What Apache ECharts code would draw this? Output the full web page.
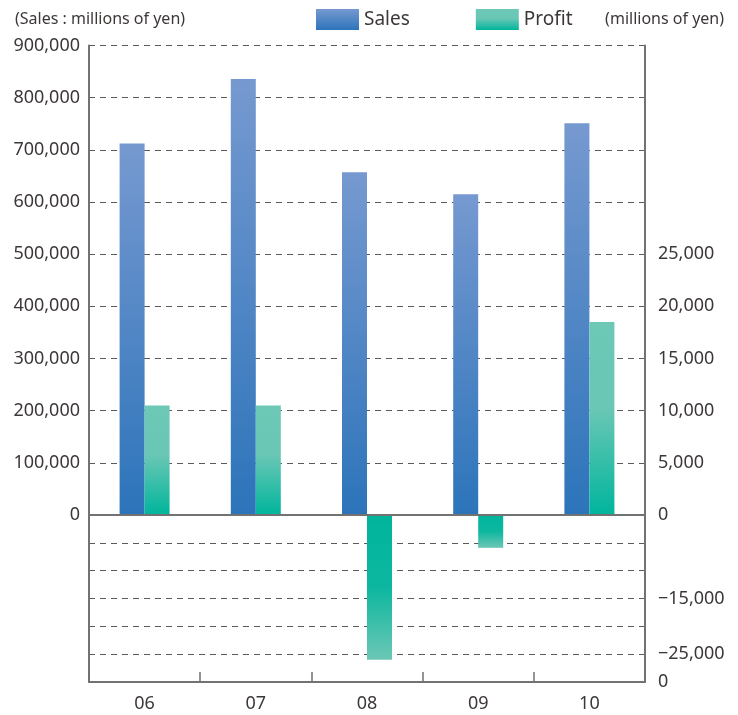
<!DOCTYPE html>
<html>
<head>
<meta charset="utf-8">
<script src="https://cdn.jsdelivr.net/npm/echarts@6/dist/echarts.min.js"></script>
<style>
html,body{margin:0;padding:0;background:#fff;}
#chart{width:738px;height:715px;}
</style>
</head>
<body>
<div id="chart"></div>
<script>
const categories = ['06', '07', '08', '09', '10'];
const sales = [712000, 836000, 657000, 615000, 751000];
const profit = [10500, 10500, -26000, -5900, 18500];
const salesTickMax = 900000;
const profitPosTickValues = [0, 5000, 10000, 15000, 20000, 25000];
const profitPosTickLabels = ['0', '5,000', '10,000', '15,000', '20,000', '25,000'];
const profitNegTickValues = [-15000, -25000, -30000];
const profitNegTickLabels = ['\u221215,000', '\u221225,000', '0'];

const FONT = 'Noto Sans';
const TXT = '#3d3838';
const AXIS = '#727272';
const dashed = { show: true, lineStyle: { color: '#5a5a5a', type: [6, 5], width: 1 } };

const salesGrad = new echarts.graphic.LinearGradient(0, 0, 0, 1, [
  { offset: 0, color: '#7699d0' },
  { offset: 1, color: '#2c74ba' }
]);
const profitPosGrad = new echarts.graphic.LinearGradient(0, 0, 0, 1, [
  { offset: 0, color: '#6dc8b6' },
  { offset: 0.45, color: '#6ac7b5' },
  { offset: 1, color: '#00b59c' }
]);
const profitNegGrad = new echarts.graphic.LinearGradient(0, 0, 0, 1, [
  { offset: 0, color: '#00b59c' },
  { offset: 0.5, color: '#0db79f' },
  { offset: 1, color: '#6cc7b5' }
]);

const chart = echarts.init(document.getElementById('chart'), null, { renderer: 'canvas' });
chart.setOption({
  animation: false,
  textStyle: { fontFamily: FONT, color: TXT },
  title: [
    { text: '(Sales : millions of yen)', left: 10, top: 6,
      textStyle: { fontFamily: FONT, fontSize: 16, fontWeight: 'normal', color: TXT } },
    { text: '(millions of yen)', right: 9, top: 6,
      textStyle: { fontFamily: FONT, fontSize: 16, fontWeight: 'normal', color: TXT } }
  ],
  legend: {
    data: ['Sales', 'Profit'],
    left: 311, top: 4,
    itemWidth: 43, itemHeight: 21, itemGap: 66,
    icon: 'rect',
    textStyle: { fontFamily: FONT, fontSize: 19, color: TXT },
    selectedMode: false
  },
  grid: [
    { left: 89, right: 93, top: 45.5, height: 469.5 },
    { left: 89, right: 93, top: 515, height: 167 }
  ],
  xAxis: [
    { type: 'category', gridIndex: 0, data: categories, position: 'bottom',
      axisLine: { show: true, onZero: false, lineStyle: { color: AXIS, width: 2 } },
      axisTick: { show: false }, axisLabel: { show: false }, z: 5 },
    { type: 'category', gridIndex: 1, data: categories, position: 'bottom',
      axisLine: { show: true, onZero: false, lineStyle: { color: AXIS, width: 2 } },
      axisTick: { show: true, inside: true, length: 10, lineStyle: { color: AXIS, width: 1.5 } },
      axisLabel: { show: true, fontFamily: FONT, fontSize: 18, color: TXT, margin: 13 }, z: 5 }
  ],
  yAxis: [
    { type: 'value', gridIndex: 0, position: 'left', min: 0, max: salesTickMax, interval: 100000,
      axisLine: { show: true, onZero: false, lineStyle: { color: AXIS, width: 2 } },
      axisTick: { show: false },
      axisLabel: { fontFamily: FONT, fontSize: 18, color: TXT, margin: 9 },
      splitLine: Object.assign({}, dashed, { showMinLine: false }) },
    { type: 'value', gridIndex: 0, position: 'right', min: 0, max: 45000, interval: 5000,
      axisLine: { show: true, onZero: false, lineStyle: { color: AXIS, width: 2 } },
      axisTick: { show: false },
      axisLabel: { fontFamily: FONT, fontSize: 18, color: TXT, margin: 13,
        formatter: v => { const i = profitPosTickValues.indexOf(v); return i >= 0 ? profitPosTickLabels[i] : ''; } },
      splitLine: { show: false } },
    { type: 'value', gridIndex: 1, position: 'left', min: -30000, max: 0, interval: 5000,
      axisLine: { show: true, onZero: false, lineStyle: { color: AXIS, width: 2 } },
      axisTick: { show: false }, axisLabel: { show: false },
      splitLine: Object.assign({}, dashed, { showMinLine: false, showMaxLine: false }) },
    { type: 'value', gridIndex: 1, position: 'right', min: -30000, max: 0, interval: 5000,
      axisLine: { show: true, onZero: false, lineStyle: { color: AXIS, width: 2 } },
      axisTick: { show: false },
      axisLabel: { fontFamily: FONT, fontSize: 18, color: TXT, margin: 13,
        formatter: v => { const i = profitNegTickValues.indexOf(v); return i >= 0 ? profitNegTickLabels[i] : ''; } },
      splitLine: { show: false } }
  ],
  series: [
    { name: 'Sales', type: 'bar', xAxisIndex: 0, yAxisIndex: 0, data: sales,
      barWidth: 25, barGap: '0%', itemStyle: { color: salesGrad } },
    { name: 'Profit', type: 'bar', xAxisIndex: 0, yAxisIndex: 1,
      data: profit.map(v => v >= 0 ? v : '-'),
      barWidth: 25, barGap: '0%', itemStyle: { color: profitPosGrad } },
    { name: 'placeholder', type: 'bar', xAxisIndex: 1, yAxisIndex: 2,
      data: profit.map(() => '-'), barWidth: 25, barGap: '0%' },
    { name: 'Profit', type: 'bar', xAxisIndex: 1, yAxisIndex: 3,
      data: profit.map(v => v < 0 ? v : '-'),
      barWidth: 25, barGap: '0%', itemStyle: { color: profitNegGrad } }
  ]
});
</script>
</body>
</html>
